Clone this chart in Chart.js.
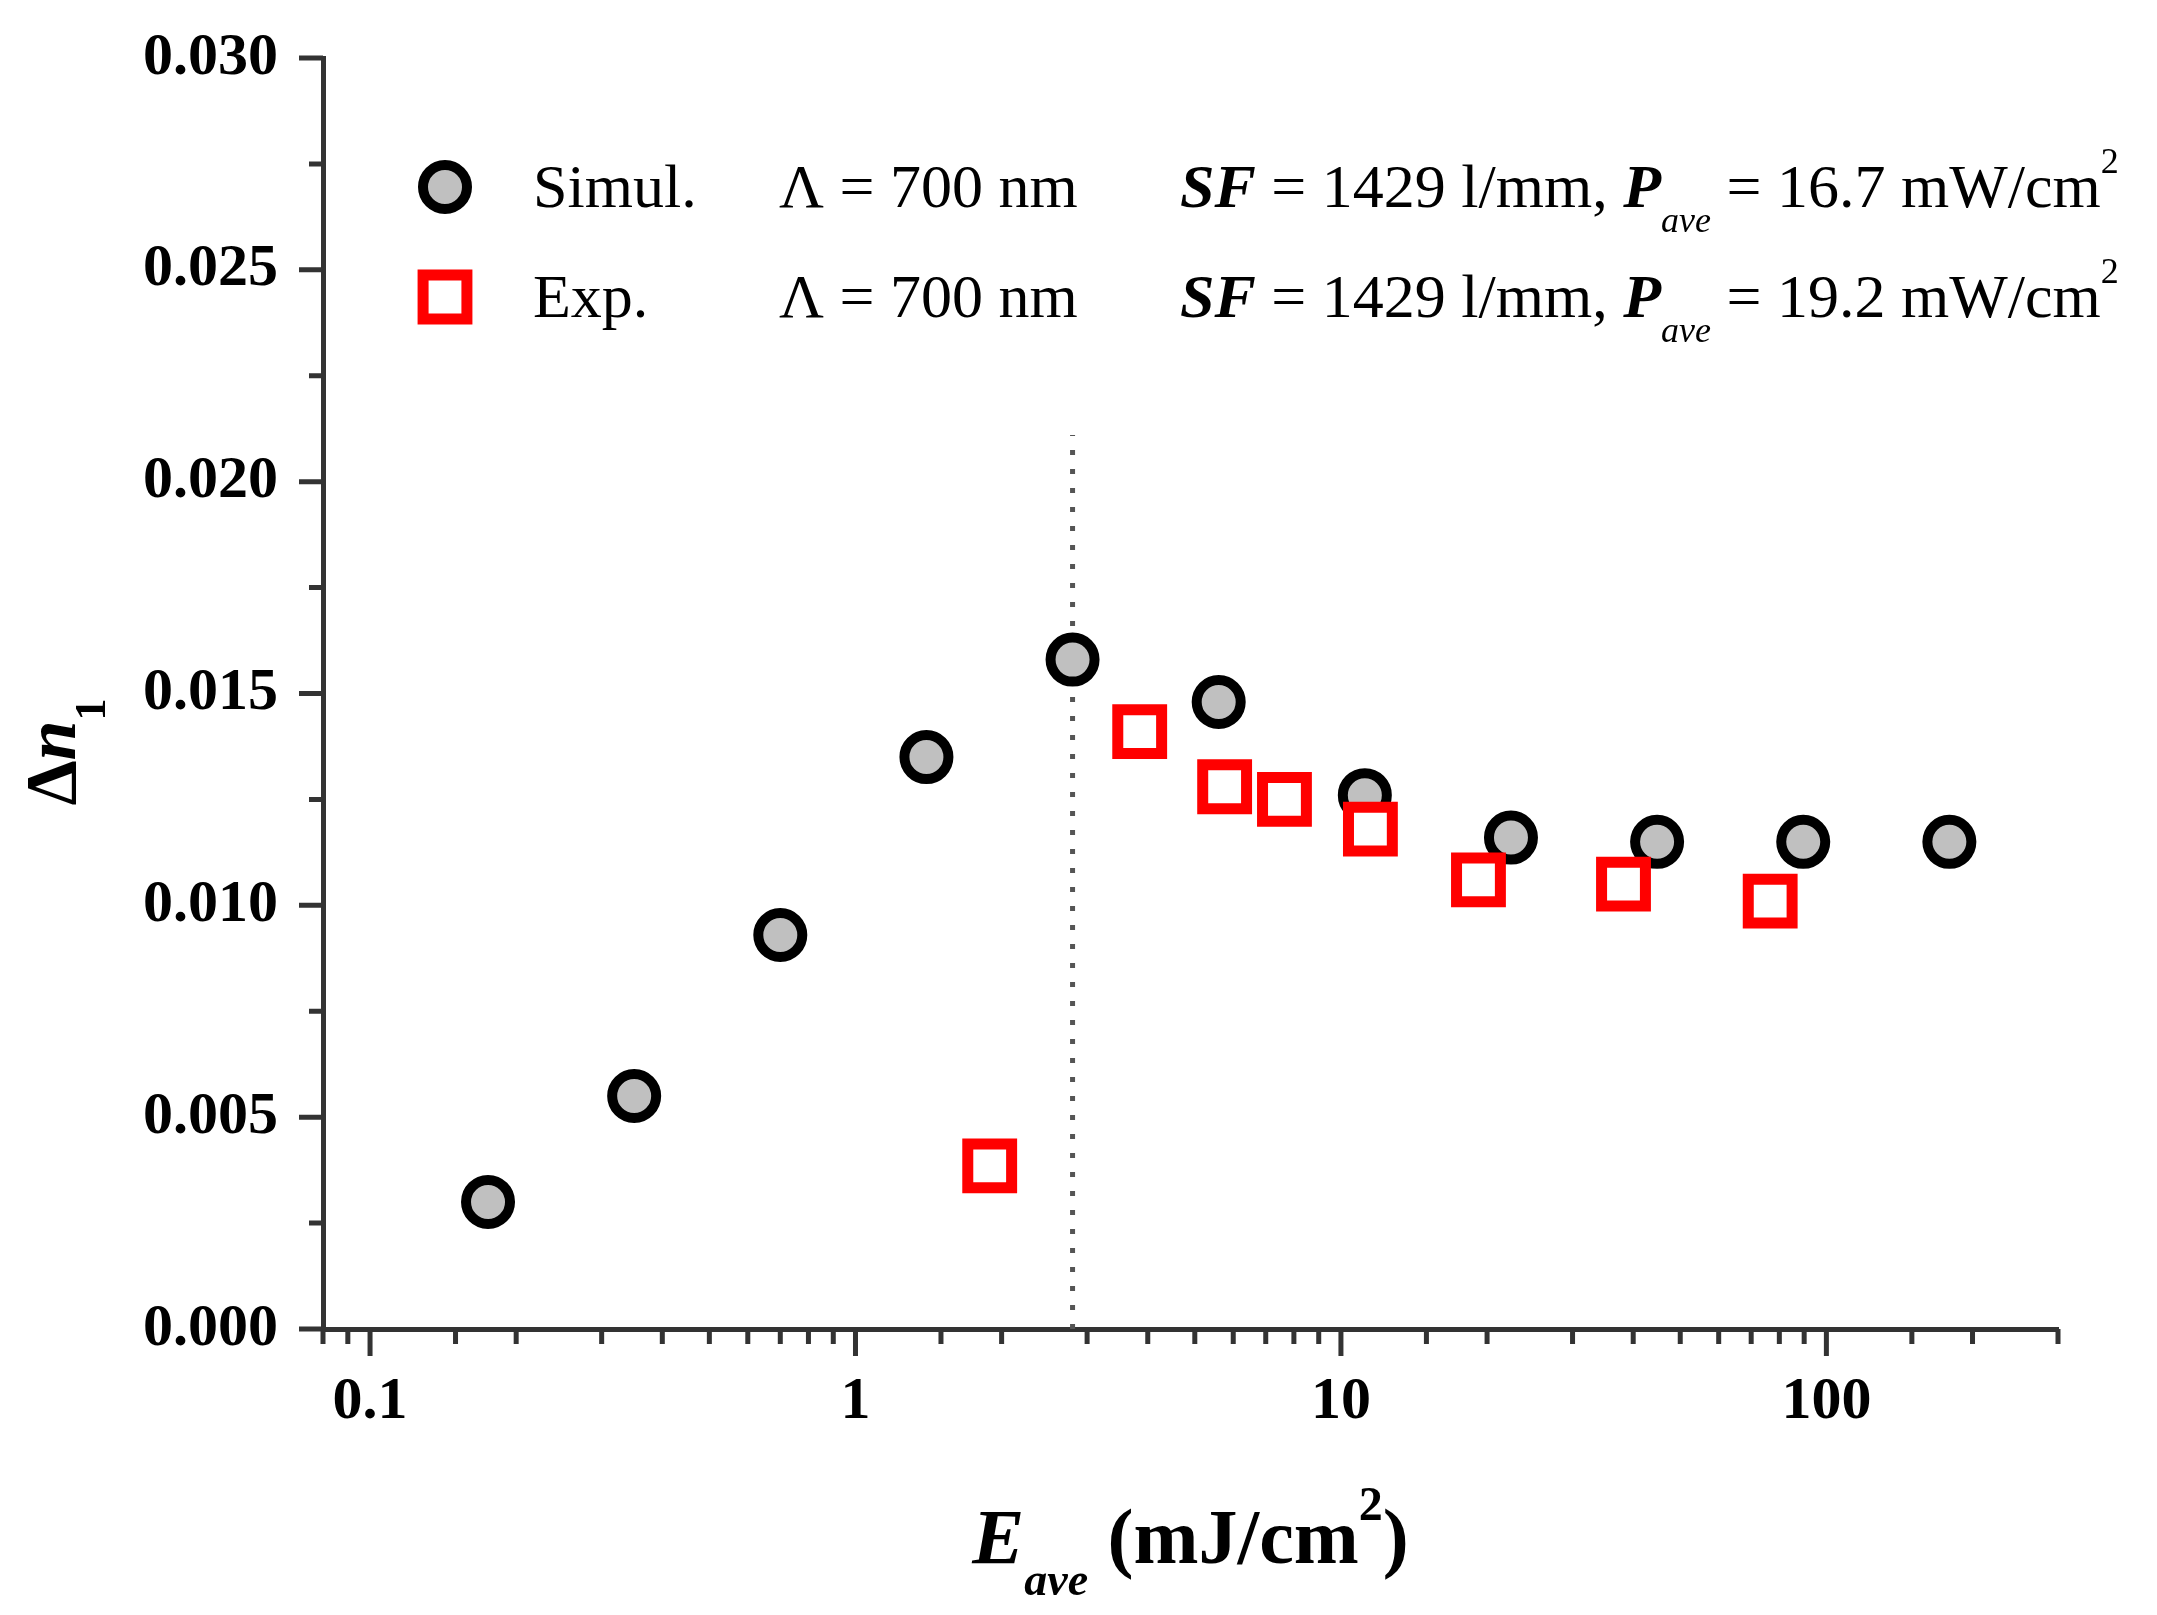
<!DOCTYPE html>
<html>
<head>
<meta charset="utf-8">
<script src="https://cdn.jsdelivr.net/npm/chart.js@4/dist/chart.umd.min.js"></script>
<style>
  html, body { margin: 0; padding: 0; background: #fff; }
  #wrap { width: 2157px; height: 1615px; }
</style>
</head>
<body>
<div id="wrap"><canvas id="dnChart" width="2157" height="1615"></canvas></div>
<script>
// data
const simulE  = [0.175, 0.35, 0.7, 1.4, 2.8, 5.6, 11.2, 22.4, 44.8, 89.6, 179.2];
const simulDn = [0.0030, 0.0055, 0.0093, 0.0135, 0.0158, 0.0148, 0.0126, 0.0116, 0.0115, 0.0115, 0.0115];
const expE    = [1.89, 3.85, 5.76, 7.65, 11.5, 19.2, 38.2, 76.6];
const expDn   = [0.00385, 0.0141, 0.0128, 0.0125, 0.0118, 0.0106, 0.0105, 0.0101];
const guideE  = [2.8, 2.8];
const guideDn = [0, 0.0211];
const xLabels = [0.1, 1, 10, 100];
const yMajor  = [0, 0.005, 0.010, 0.015, 0.020, 0.025, 0.030];
const yStep   = 0.0025;

const toPoints = (xs, ys) => xs.map((x, i) => ({ x: x, y: ys[i] }));

const SERIF = "'Liberation Serif', 'Times New Roman', serif";
const AXIS = '#333';

const simulStyle = { pointStyle: 'circle', radius: 22, borderWidth: 10, borderColor: '#000', backgroundColor: '#c0c0c0' };
const expStyle   = { pointStyle: 'rect', radius: 31, borderWidth: 11, borderColor: '#ff0000', backgroundColor: '#fff' };

function isPow10(v) {
    const l = Math.log10(v);
    return Math.abs(l - Math.round(l)) < 1e-6;
}

// draws a list of text runs one after another, returns end x
function drawRuns(ctx, x, y, runs, measureOnly) {
    let cx = x;
    runs.forEach(r => {
        ctx.font = r.font;
        if (!measureOnly) ctx.fillText(r.text, cx, y + (r.dy || 0));
        cx += ctx.measureText(r.text).width;
    });
    return cx;
}

const decorPlugin = {
    id: 'decor',
    afterDraw(chart) {
        const ctx = chart.ctx;
        const xs = chart.scales.x, ys = chart.scales.y;
        const area = chart.chartArea;
        ctx.save();

        // tick marks, major longer than minor
        ctx.strokeStyle = AXIS;
        ctx.lineWidth = 5;
        ctx.beginPath();
        for (let k = 0; k <= Math.round(0.03 / yStep); k++) {
            const v = k * yStep;
            const py = ys.getPixelForValue(v);
            const len = (k % 2 === 0) ? 24 : 14;
            ctx.moveTo(area.left, py);
            ctx.lineTo(area.left - len, py);
        }
        xs.ticks.forEach(t => {
            const px = xs.getPixelForValue(t.value);
            const len = isPow10(t.value) ? 27 : 15;
            ctx.moveTo(px, area.bottom);
            ctx.lineTo(px, area.bottom + len);
        });
        ctx.stroke();

        ctx.fillStyle = '#000';
        ctx.textBaseline = 'alphabetic';
        ctx.textAlign = 'left';

        // legend
        const legendRows = [
            { style: simulStyle, name: 'Simul.', p: '16.7', y: 187 },
            { style: expStyle,   name: 'Exp.',   p: '19.2', y: 297 }
        ];
        legendRows.forEach(row => {
            ctx.fillStyle = row.style.backgroundColor;
            ctx.strokeStyle = row.style.borderColor;
            ctx.lineWidth = row.style.borderWidth;
            ctx.beginPath();
            if (row.style.pointStyle === 'circle') {
                ctx.arc(445, row.y, row.style.radius, 0, Math.PI * 2);
            } else {
                const s = Math.SQRT1_2 * row.style.radius;
                ctx.rect(445 - s, row.y - s, 2 * s, 2 * s);
            }
            ctx.fill();
            ctx.stroke();

            const base = row.y + 20;
            ctx.fillStyle = '#000';
            ctx.font = `62px ${SERIF}`;
            ctx.fillText(row.name, 533, base);
            ctx.fillText('\u039B = 700 nm', 779, base);
            drawRuns(ctx, 1180, base, [
                { text: 'SF', font: `italic bold 62px ${SERIF}` },
                { text: ' = 1429 l/mm, ', font: `62px ${SERIF}` },
                { text: 'P', font: `italic bold 62px ${SERIF}` },
                { text: 'ave', font: `italic 36px ${SERIF}`, dy: 25 },
                { text: ' = ' + row.p + ' mW/cm', font: `62px ${SERIF}` },
                { text: '2', font: `36px ${SERIF}`, dy: -34 }
            ]);
        });

        // x axis title, centred on plot
        const xRuns = [
            { text: 'E', font: `italic bold 78px ${SERIF}` },
            { text: 'ave', font: `italic bold 46px ${SERIF}`, dy: 32 },
            { text: ' (mJ/cm', font: `bold 78px ${SERIF}` },
            { text: '2', font: `bold 48px ${SERIF}`, dy: -43 },
            { text: ')', font: `bold 78px ${SERIF}` }
        ];
        const xw = drawRuns(ctx, 0, 0, xRuns, true);
        drawRuns(ctx, (area.left + area.right) / 2 - xw / 2, 1563, xRuns);

        // y axis title, rotated
        const yRuns = [
            { text: '\u0394', font: `bold 72px ${SERIF}` },
            { text: 'n', font: `italic bold 72px ${SERIF}` },
            { text: '1', font: `bold 44px ${SERIF}`, dy: 30 }
        ];
        const yw = drawRuns(ctx, 0, 0, yRuns, true);
        ctx.translate(75, 752);
        ctx.rotate(-Math.PI / 2);
        drawRuns(ctx, -yw / 2, 0, yRuns);

        ctx.restore();
    }
};

Chart.defaults.font.family = SERIF;
Chart.defaults.color = '#000';

new Chart(document.getElementById('dnChart').getContext('2d'), {
    type: 'scatter',
    data: {
        datasets: [
            {
                label: 'guide',
                type: 'line',
                data: toPoints(guideE, guideDn),
                borderColor: '#555',
                borderWidth: 5,
                borderDash: [5, 14],
                pointRadius: 0,
                fill: false,
                order: 3
            },
            {
                label: 'Simul.',
                data: toPoints(simulE, simulDn),
                pointStyle: simulStyle.pointStyle,
                pointRadius: simulStyle.radius,
                pointBorderWidth: simulStyle.borderWidth,
                borderColor: simulStyle.borderColor,
                backgroundColor: simulStyle.backgroundColor,
                order: 2
            },
            {
                label: 'Exp.',
                data: toPoints(expE, expDn),
                pointStyle: expStyle.pointStyle,
                pointRadius: expStyle.radius,
                pointBorderWidth: expStyle.borderWidth,
                borderColor: expStyle.borderColor,
                backgroundColor: expStyle.backgroundColor,
                order: 1
            }
        ]
    },
    options: {
        responsive: false,
        devicePixelRatio: 1,
        animation: false,
        events: [],
        layout: { padding: { left: 0, right: 99, top: 48, bottom: 0 } },
        plugins: { legend: { display: false }, tooltip: { enabled: false } },
        scales: {
            x: {
                type: 'logarithmic',
                min: 0.08,
                max: 300,
                afterFit: s => { s.height = 286; },
                grid: {
                    drawOnChartArea: false,
                    drawTicks: true,
                    tickLength: 25,
                    tickColor: 'rgba(0,0,0,0)'
                },
                border: { display: true, color: AXIS, width: 5 },
                ticks: {
                    autoSkip: false,
                    maxRotation: 0,
                    padding: 12,
                    font: { size: 60, weight: 'bold' },
                    callback: v => (xLabels.some(l => Math.abs(l - v) < 1e-9) ? String(v) : '')
                }
            },
            y: {
                min: 0,
                max: 0.03,
                afterFit: s => { s.width = 323; },
                grid: {
                    drawOnChartArea: false,
                    drawTicks: true,
                    tickLength: 23,
                    tickColor: 'rgba(0,0,0,0)'
                },
                border: { display: true, color: AXIS, width: 5 },
                ticks: {
                    stepSize: yStep,
                    autoSkip: false,
                    padding: 22,
                    font: { size: 60, weight: 'bold' },
                    callback: v => (yMajor.some(m => Math.abs(m - v) < 1e-9) ? v.toFixed(3) : '')
                }
            }
        }
    },
    plugins: [decorPlugin]
});
</script>
</body>
</html>
